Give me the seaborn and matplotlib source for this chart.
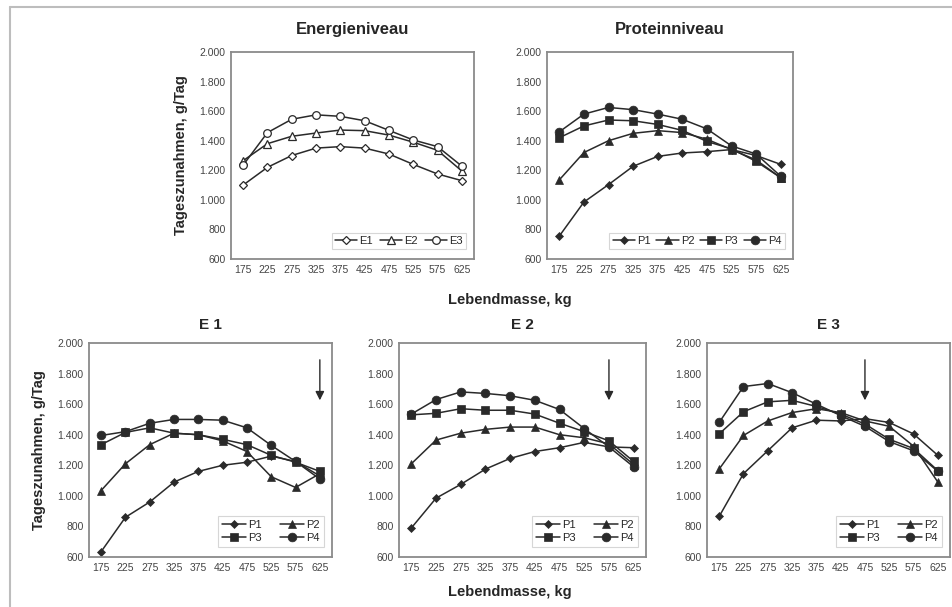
import matplotlib
matplotlib.use("Agg")
import matplotlib.pyplot as plt
import matplotlib.ticker as mticker
from matplotlib.lines import Line2D
import seaborn as sns
import pandas as pd

# ---------------- data ----------------
kg = [175, 225, 275, 325, 375, 425, 475, 525, 575, 625]

energy_E1 = [1100, 1220, 1300, 1350, 1360, 1350, 1310, 1240, 1175, 1130]
energy_E2 = [1265, 1380, 1430, 1452, 1472, 1468, 1438, 1390, 1335, 1195]
energy_E3 = [1235, 1455, 1545, 1575, 1565, 1535, 1470, 1405, 1360, 1228]

protein_P1 = [755, 985, 1103, 1227, 1294, 1317, 1326, 1340, 1300, 1240]
protein_P2 = [1135, 1320, 1400, 1450, 1468, 1455, 1410, 1340, 1270, 1150]
protein_P3 = [1420, 1500, 1540, 1535, 1510, 1470, 1395, 1345, 1260, 1150]
protein_P4 = [1460, 1580, 1625, 1610, 1580, 1545, 1480, 1365, 1310, 1160]

e1_P1 = [635, 860, 960, 1090, 1160, 1200, 1220, 1260, 1225, 1130]
e1_P2 = [1035, 1210, 1335, 1410, 1400, 1360, 1290, 1125, 1055, 1145]
e1_P3 = [1335, 1415, 1445, 1410, 1400, 1370, 1335, 1265, 1220, 1160]
e1_P4 = [1395, 1420, 1475, 1500, 1500, 1495, 1445, 1330, 1225, 1110]

e2_P1 = [790, 985, 1075, 1175, 1245, 1290, 1315, 1350, 1320, 1315]
e2_P2 = [1210, 1365, 1410, 1435, 1450, 1450, 1400, 1380, 1340, 1205]
e2_P3 = [1530, 1540, 1570, 1560, 1560, 1535, 1475, 1420, 1360, 1225]
e2_P4 = [1535, 1630, 1680, 1670, 1655, 1625, 1565, 1440, 1320, 1190]

e3_P1 = [865, 1145, 1295, 1445, 1495, 1490, 1505, 1480, 1405, 1265]
e3_P2 = [1175, 1395, 1490, 1545, 1570, 1545, 1490, 1455, 1325, 1090]
e3_P3 = [1405, 1550, 1615, 1625, 1585, 1535, 1470, 1370, 1310, 1165]
e3_P4 = [1480, 1715, 1735, 1675, 1600, 1525, 1455, 1355, 1295, 1160]

energy_labels = ["E1", "E2", "E3"]
protein_labels = ["P1", "P2", "P3", "P4"]
titles_top = ["Energieniveau", "Proteinniveau"]
titles_bottom = ["E 1", "E 2", "E 3"]
arrow_x = [625, 575, 475]
arrow_from = 1890
arrow_to = 1625
y_ticks = [600, 800, 1000, 1200, 1400, 1600, 1800, 2000]
x_label = "Lebendmasse, kg"
y_label = "Tageszunahmen, g/Tag"

# ---------------- style ----------------
sns.set_theme(style="white")
plt.rcParams["font.family"] = ["Liberation Sans", "DejaVu Sans"]

LINE = "#2a2a2a"
SPINE = "#8a8a8a"
TICK = "#444444"

fig = plt.figure(figsize=(9.53, 6.07), dpi=100)
W, H = 953, 607


def rect(l, t, r, b):
    return [l / W, 1 - b / H, (r - l) / W, (b - t) / H]


def fmt(v, pos):
    v = int(round(v))
    return f"{v:,}".replace(",", ".")


def style_axis(ax):
    ax.set_xlim(150, 650)
    ax.set_ylim(600, 2000)
    ax.set_xticks(kg)
    ax.set_yticks(y_ticks)
    ax.yaxis.set_major_formatter(mticker.FuncFormatter(fmt))
    ax.tick_params(axis="both", length=0, labelsize=7.5, colors=TICK, pad=4)
    for s in ax.spines.values():
        s.set_color(SPINE)
        s.set_linewidth(1.3)
    ax.set_xlabel("")
    ax.set_ylabel("")


def draw(ax, series, labels, markers, sizes, open_markers=False):
    for vals, lab, m, ms in zip(series, labels, markers, sizes):
        df = pd.DataFrame({"kg": kg, "val": vals})
        sns.lineplot(
            data=df, x="kg", y="val", ax=ax, color=LINE, lw=1.1,
            marker=m, markersize=ms,
            markerfacecolor=("white" if open_markers else LINE),
            markeredgecolor=LINE, markeredgewidth=(0.9 if open_markers else 0.5),
            label=lab,
        )


# ---------------- top row ----------------
ax_e = fig.add_axes(rect(231, 52, 474, 259))
draw(ax_e, [energy_E1, energy_E2, energy_E3], energy_labels,
     ["D", "^", "o"], [4.5, 5.5, 5.5], open_markers=True)
style_axis(ax_e)
ax_e.set_title(titles_top[0], fontsize=12, fontweight="bold", pad=13)
ax_e.set_ylabel(y_label, fontsize=10.5, fontweight="bold", labelpad=8)
ax_e.legend(loc="lower right", ncol=3, fontsize=8, frameon=True,
            handlelength=2.0, handletextpad=0.2, columnspacing=0.6,
            borderpad=0.3, edgecolor="#cccccc", fancybox=False,
            bbox_to_anchor=(0.99, 0.02)).get_frame().set_linewidth(0.8)

ax_p = fig.add_axes(rect(547, 52, 793, 259))
draw(ax_p, [protein_P1, protein_P2, protein_P3, protein_P4], protein_labels,
     ["D", "^", "s", "o"], [3.8, 5.2, 5.8, 6.3])
style_axis(ax_p)
ax_p.set_title(titles_top[1], fontsize=12, fontweight="bold", pad=13)
ax_p.legend(loc="lower right", ncol=4, fontsize=8, frameon=True,
            handlelength=2.0, handletextpad=0.2, columnspacing=0.5,
            borderpad=0.3, edgecolor="#cccccc", fancybox=False,
            bbox_to_anchor=(0.99, 0.02)).get_frame().set_linewidth(0.8)

fig.text(510 / W, 1 - 300 / H, x_label, ha="center", va="center",
         fontsize=10.5, fontweight="bold")

# ---------------- bottom row ----------------
bottom_rects = [rect(89, 343, 332, 557), rect(399, 343, 646, 557),
                rect(707, 343, 950, 557)]
bottom_data = [
    [e1_P1, e1_P2, e1_P3, e1_P4],
    [e2_P1, e2_P2, e2_P3, e2_P4],
    [e3_P1, e3_P2, e3_P3, e3_P4],
]
for i, (r, data) in enumerate(zip(bottom_rects, bottom_data)):
    ax = fig.add_axes(r)
    draw(ax, data, protein_labels, ["D", "^", "s", "o"], [3.8, 5.2, 5.8, 6.3])
    style_axis(ax)
    ax.set_title(titles_bottom[i], fontsize=11, fontweight="bold", pad=10)
    if i == 0:
        ax.set_ylabel(y_label, fontsize=10.5, fontweight="bold", labelpad=8)
    ax.annotate("", xy=(arrow_x[i], arrow_to), xytext=(arrow_x[i], arrow_from),
                arrowprops=dict(arrowstyle="-|>", color=LINE, lw=1.0,
                                mutation_scale=13, shrinkA=0, shrinkB=0))
    handles, labels = ax.get_legend_handles_labels()
    order = [0, 2, 1, 3]  # row-major display: P1 P2 / P3 P4
    leg = ax.legend([handles[k] for k in order], [labels[k] for k in order],
                    loc="lower right", ncol=2, fontsize=8, frameon=True,
                    handlelength=2.2, handletextpad=0.2, columnspacing=1.6,
                    borderpad=0.35, labelspacing=0.3, edgecolor="#cccccc",
                    fancybox=False, bbox_to_anchor=(0.99, 0.02))
    leg.get_frame().set_linewidth(0.8)

fig.text(510 / W, 1 - 592 / H, x_label, ha="center", va="center",
         fontsize=10.5, fontweight="bold")

# outer frame (left and top edges visible in the reference)
fig.add_artist(Line2D([10 / W, 10 / W], [0, 1 - 7 / H], transform=fig.transFigure,
                      color="#bdbdbd", lw=1.5))
fig.add_artist(Line2D([10 / W, 1], [1 - 7 / H, 1 - 7 / H], transform=fig.transFigure,
                      color="#bdbdbd", lw=1.5))

fig.savefig("out.png", dpi=100, facecolor="white")
